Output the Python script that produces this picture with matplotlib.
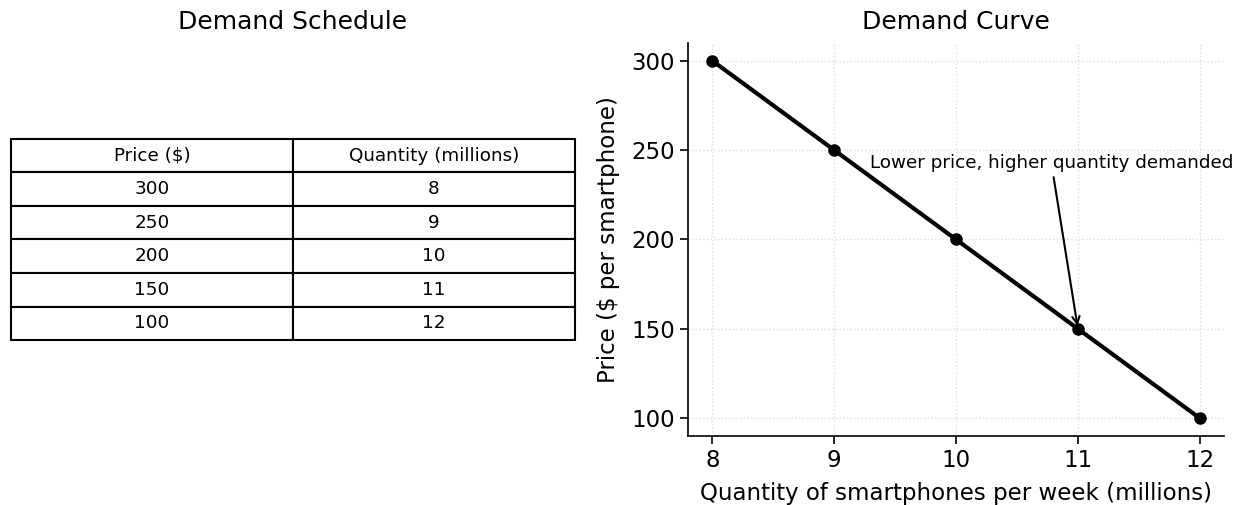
import matplotlib.pyplot as plt

plt.rcParams["font.family"] = "DejaVu Sans"

# Demand schedule for smartphones
price = [300, 250, 200, 150, 100]
quantity = [8, 9, 10, 11, 12]
col_labels = ["Price ($)", "Quantity (millions)"]

fig = plt.figure(figsize=(12.42, 5.05), dpi=100)

# Left: the schedule as a table
ax_t = fig.add_axes([0.0089, 0.1366, 0.454, 0.7783])
ax_t.axis("off")
ax_t.set_title("Demand Schedule", fontsize=18, pad=10)
cells = [[str(p), str(q)] for p, q in zip(price, quantity)]
tbl = ax_t.table(cellText=cells, colLabels=col_labels, cellLoc="center",
                 loc="center", bbox=[0, 0.244, 1, 0.512])
tbl.auto_set_font_size(False)
tbl.set_fontsize(13.2)
for cell in tbl.get_celld().values():
    cell.set_linewidth(1.5)

# Right: the demand curve
ax = fig.add_axes([0.554, 0.1366, 0.4316, 0.7783])
ax.plot(quantity, price, "o-", color="black", linewidth=3, markersize=8)
ax.set_xlim(7.8, 12.2)
ax.set_ylim(90, 310)
ax.set_xticks(quantity)
ax.set_yticks([100, 150, 200, 250, 300])
ax.tick_params(labelsize=16.5, width=1.2, length=6)
ax.set_xlabel("Quantity of smartphones per week (millions)", fontsize=16.5, labelpad=7)
ax.set_ylabel("Price ($ per smartphone)", fontsize=16.5, labelpad=8)
ax.set_title("Demand Curve", fontsize=18, pad=10)
ax.grid(True, linestyle=":", color="#dddddd", linewidth=1)
ax.spines["top"].set_visible(False)
ax.spines["right"].set_visible(False)
ax.spines["left"].set_linewidth(1.2)
ax.spines["bottom"].set_linewidth(1.2)

ax.annotate("Lower price, higher quantity demanded",
            xy=(quantity[3], price[3]), xytext=(9.29, 243),
            ha="left", va="center", fontsize=13.2,
            arrowprops=dict(arrowstyle="->", color="black", lw=1.5))

fig.savefig("out.png", dpi=100)
